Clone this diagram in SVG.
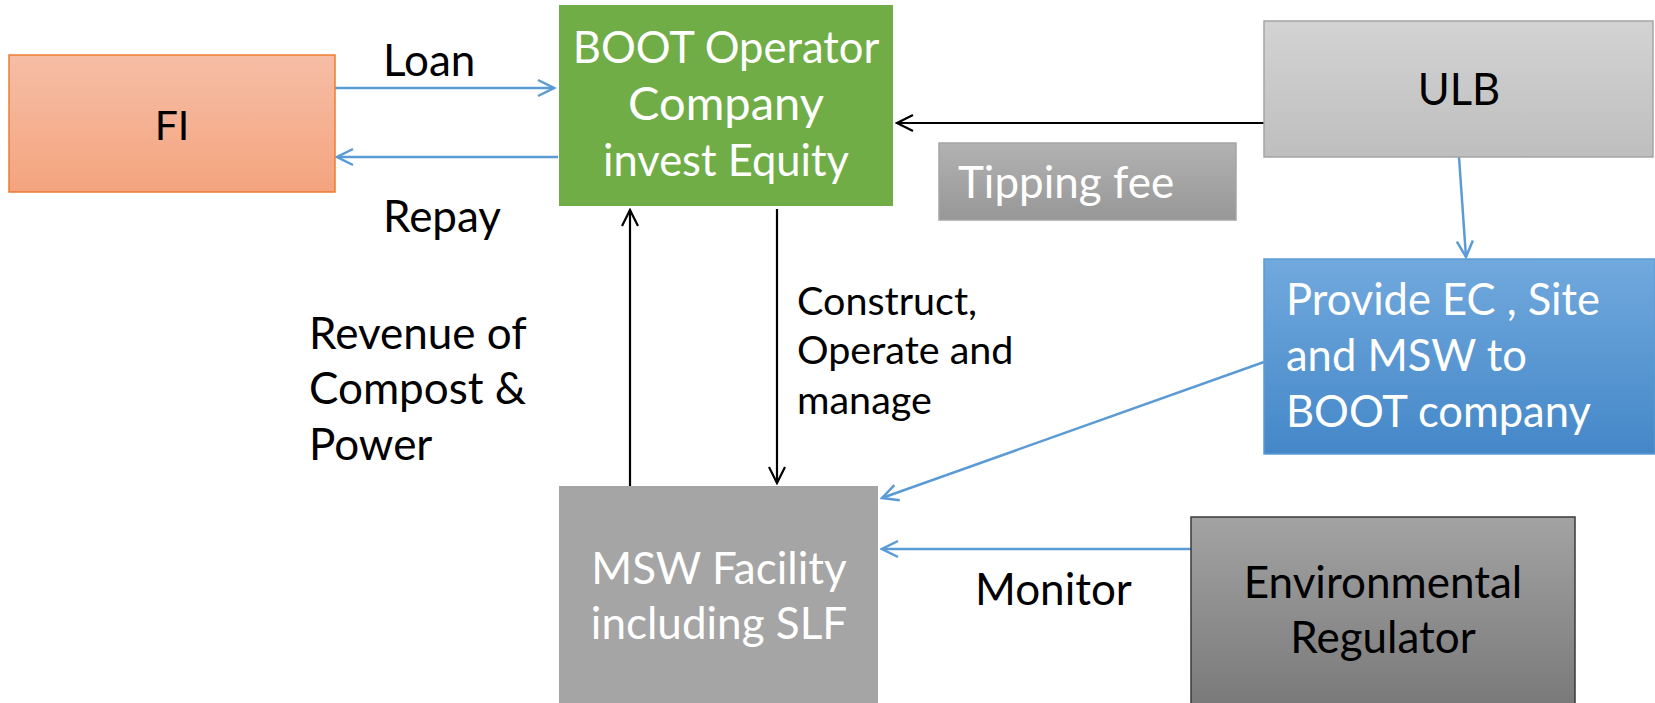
<svg xmlns="http://www.w3.org/2000/svg" width="1655" height="703" viewBox="0 0 1655 703">
  <defs>
    <linearGradient id="gFI" x1="0" y1="0" x2="0" y2="1">
      <stop offset="0" stop-color="#F6BEA6"/>
      <stop offset="1" stop-color="#F4A47E"/>
    </linearGradient>
    <linearGradient id="gULB" x1="0" y1="0" x2="0" y2="1">
      <stop offset="0" stop-color="#D3D3D3"/>
      <stop offset="1" stop-color="#BEBEBE"/>
    </linearGradient>
    <linearGradient id="gTip" x1="0" y1="0" x2="0" y2="1">
      <stop offset="0" stop-color="#B2B2B2"/>
      <stop offset="1" stop-color="#979797"/>
    </linearGradient>
    <linearGradient id="gProv" x1="0" y1="0" x2="0" y2="1">
      <stop offset="0" stop-color="#71A9DD"/>
      <stop offset="1" stop-color="#4487C8"/>
    </linearGradient>
    <linearGradient id="gEnv" x1="0" y1="0" x2="0" y2="1">
      <stop offset="0" stop-color="#A3A3A3"/>
      <stop offset="1" stop-color="#797979"/>
    </linearGradient>
    <marker id="headBlue" viewBox="0 0 20 20" refX="18" refY="10" markerWidth="20" markerHeight="20" markerUnits="userSpaceOnUse" orient="auto">
      <path d="M2,2 L18,10 L2,18" fill="none" stroke="#5B9BD5" stroke-width="2.5"/>
    </marker>
    <marker id="headBlack" viewBox="0 0 20 20" refX="18" refY="10" markerWidth="20" markerHeight="20" markerUnits="userSpaceOnUse" orient="auto">
      <path d="M2,2 L18,10 L2,18" fill="none" stroke="#000" stroke-width="2.2"/>
    </marker>
  </defs>
  <style>
    text { font-family: Lato, "Open Sans", "Liberation Sans", sans-serif; }
    .box { font-size: 43.5px; }
    .lbl { font-size: 44px; fill: #000; }
    .sm { font-size: 39.5px; fill: #000; }
    .white { fill: #fff; }
    .dark { fill: #000; }
    .blue { stroke: #5B9BD5; stroke-width: 2.5; fill: none; marker-end: url(#headBlue); }
    .black { stroke: #000; stroke-width: 2.2; fill: none; marker-end: url(#headBlack); }
  </style>

  <rect width="1655" height="703" fill="#fff"/>

  <!-- connectors -->
  <g id="connectors">
    <line class="blue" x1="335" y1="88" x2="554" y2="88"/>
    <line class="blue" x1="558" y1="157" x2="337" y2="157"/>
    <line class="black" x1="1264" y1="123" x2="897" y2="123"/>
    <line class="blue" x1="1459" y1="157" x2="1466" y2="257"/>
    <line class="blue" x1="1264" y1="362" x2="882" y2="498"/>
    <line class="blue" x1="1191" y1="549" x2="882" y2="549"/>
    <line class="black" x1="630" y1="486" x2="630" y2="210"/>
    <line class="black" x1="777" y1="209" x2="777" y2="483"/>
  </g>

  <!-- edge labels -->
  <g id="labels">
    <text class="lbl" x="383" y="76">Loan</text>
    <text class="lbl" x="383" y="232">Repay</text>
    <text class="sm" x="797" y="315">Construct,</text>
    <text class="sm" x="797" y="364">Operate and</text>
    <text class="sm" x="797" y="414">manage</text>
    <text class="lbl" x="309" y="349">Revenue of</text>
    <text class="lbl" x="309" y="404">Compost &amp;</text>
    <text class="lbl" x="309" y="460">Power</text>
    <text class="lbl" x="975" y="605">Monitor</text>
  </g>

  <g id="node-fi">
    <rect x="9" y="55" width="326" height="137" fill="url(#gFI)" stroke="#ED7D31" stroke-width="1.5"/>
    <text x="172" y="140" text-anchor="middle" style="font-size:41px" fill="#000">FI</text>
  </g>

  <g id="node-boot">
    <rect x="559" y="5" width="334" height="201" fill="#70AD47"/>
    <text class="box white" x="726" y="63" text-anchor="middle">BOOT Operator</text>
    <text class="box white" x="726" y="120" text-anchor="middle" style="font-size:47px">Company</text>
    <text class="box white" x="726" y="176" text-anchor="middle">invest Equity</text>
  </g>

  <g id="node-ulb">
    <rect x="1264" y="21" width="389" height="136" fill="url(#gULB)" stroke="#A5A5A5" stroke-width="1.5"/>
    <text class="box dark" x="1459" y="105" text-anchor="middle">ULB</text>
  </g>

  <g id="node-tipping">
    <rect x="939" y="143" width="297" height="77" fill="url(#gTip)" stroke="#A5A5A5" stroke-width="1.5"/>
    <text class="lbl white" x="958" y="198">Tipping fee</text>
  </g>

  <g id="node-provide">
    <rect x="1264" y="259" width="391" height="195" fill="url(#gProv)" stroke="#5B9BD5" stroke-width="1.5"/>
    <text class="box white" x="1286" y="315">Provide EC , Site</text>
    <text class="box white" x="1286" y="371">and MSW to</text>
    <text class="box white" x="1286" y="427">BOOT company</text>
  </g>

  <g id="node-msw">
    <rect x="559" y="486" width="319" height="217" fill="#A5A5A5"/>
    <text class="lbl white" x="719" y="584" text-anchor="middle">MSW Facility</text>
    <text class="lbl white" x="719" y="639" text-anchor="middle">including SLF</text>
  </g>

  <g id="node-env">
    <rect x="1191" y="517" width="384" height="190" fill="url(#gEnv)" stroke="#3A3A3A" stroke-width="1.5"/>
    <text class="lbl dark" x="1383" y="598" text-anchor="middle">Environmental</text>
    <text class="lbl dark" x="1383" y="653" text-anchor="middle">Regulator</text>
  </g>
</svg>
